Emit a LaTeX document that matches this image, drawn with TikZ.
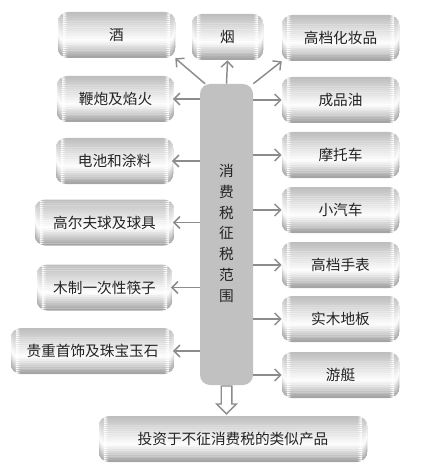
\documentclass[tikz,border=0pt]{standalone}
\usepackage{fontspec}
\usetikzlibrary{arrows.meta,shapes.arrows,calc}
\newfontfamily\cjk{Noto Sans CJK SC}
\definecolor{boxgray}{RGB}{160,160,160}
\definecolor{linegray}{RGB}{140,140,140}
\definecolor{txtgray}{RGB}{35,35,35}

% horizontal bands: grey at top, white low in the middle, grey at the bottom
\newcommand\shadebands{%
  \foreach \i in {0,...,23}{%
    \pgfmathtruncatemacro\w{((\i+0.5)/24<0.62) ? 30+70*((\i+0.5)/24)/0.62 : 100*(1-(\i+0.5)/24)/0.38}%
    \fill[white!\w!boxgray]
      ($(path picture bounding box.north west)!{\i/24}!(path picture bounding box.south west)$)
      rectangle ($(path picture bounding box.north east)!{(\i+1.08)/24}!(path picture bounding box.south east)$);
  }}

\begin{document}
\begin{tikzpicture}[x=0.75pt, y=-0.75pt,
    itembox/.style={rounded corners=7.5pt, minimum height=34.5pt, minimum width=87.75pt,
        path picture={\shadebands},
        text=txtgray, font=\cjk\fontsize{11}{13}\selectfont, inner sep=0pt},
    scopebox/.style={rounded corners=7.5pt, minimum width=39.75pt, minimum height=225.75pt,
        fill=boxgray!65, text=txtgray, align=center,
        font=\cjk\fontsize{11}{15.6}\selectfont, inner sep=0pt},
    conn/.style={draw=linegray, line width=1.1pt, -{Straight Barb[length=4.5pt,width=9pt]}}]

% Frame
\useasboundingbox (0,0) rectangle (428,474);

% Centre
\node[scopebox] (center) at (226.5,234.5) {\\[-8pt]消\\费\\税\\征\\税\\范\\围};

% Top row
\node[itembox] (jiu) at (116.5,35) {酒};
\node[itembox, minimum width=53.25pt] (yan) at (227.5,37) {烟};
\node[itembox] (huazhuang) at (340.5,38) {高档化妆品};

% Left column
\node[itembox] (bianpao) at (115.5,99) {鞭炮及焰火};
\node[itembox] (dianchi) at (114.5,161) {电池和涂料};
\node[itembox, minimum width=104.25pt] (gaoerfu) at (104.5,222.5) {高尔夫球及球具};
\node[itembox, minimum width=101.25pt] (muzhi) at (104.5,287.5) {木制一次性筷子};
\node[itembox, minimum width=122.25pt] (guizhong) at (92.5,351) {贵重首饰及珠宝玉石};

% Right column
\foreach \name/\y/\txt in {chengpin/100/成品油, motuo/155/摩托车, qiche/210/小汽车,
    shoubiao/265/高档手表, diban/319/实木地板, youting/375/游艇} {
    \node[itembox] (\name) at (340.5,\y) {\txt};
}

% Bottom
\node[itembox, minimum width=201pt] (touzi) at (233,439) {投资于不征消费税的类似产品};

% Arrows
\draw[conn] ([xshift=4pt]center.north west) -- (jiu.south east);
\draw[conn] (center.north) -- (yan.south);
\draw[conn] (center.north east) -- (huazhuang.south west);
\foreach \name in {bianpao,dianchi,gaoerfu,muzhi,guizhong} {
    \draw[conn] (center.west |- \name.east) -- ([xshift=-1pt]\name.east);
}
\foreach \name in {chengpin,motuo,qiche,shoubiao,diban,youting} {
    \draw[conn] (center.east |- \name.west) -- (\name.west);
}

% Hollow arrow down
\node[single arrow, draw=linegray, line width=1pt, fill=white, shape border rotate=270,
    minimum height=21pt, minimum width=15pt, inner sep=3.5pt,
    single arrow head extend=3.5pt, anchor=tail] (down) at (center.south) {};

\end{tikzpicture}
\end{document}
